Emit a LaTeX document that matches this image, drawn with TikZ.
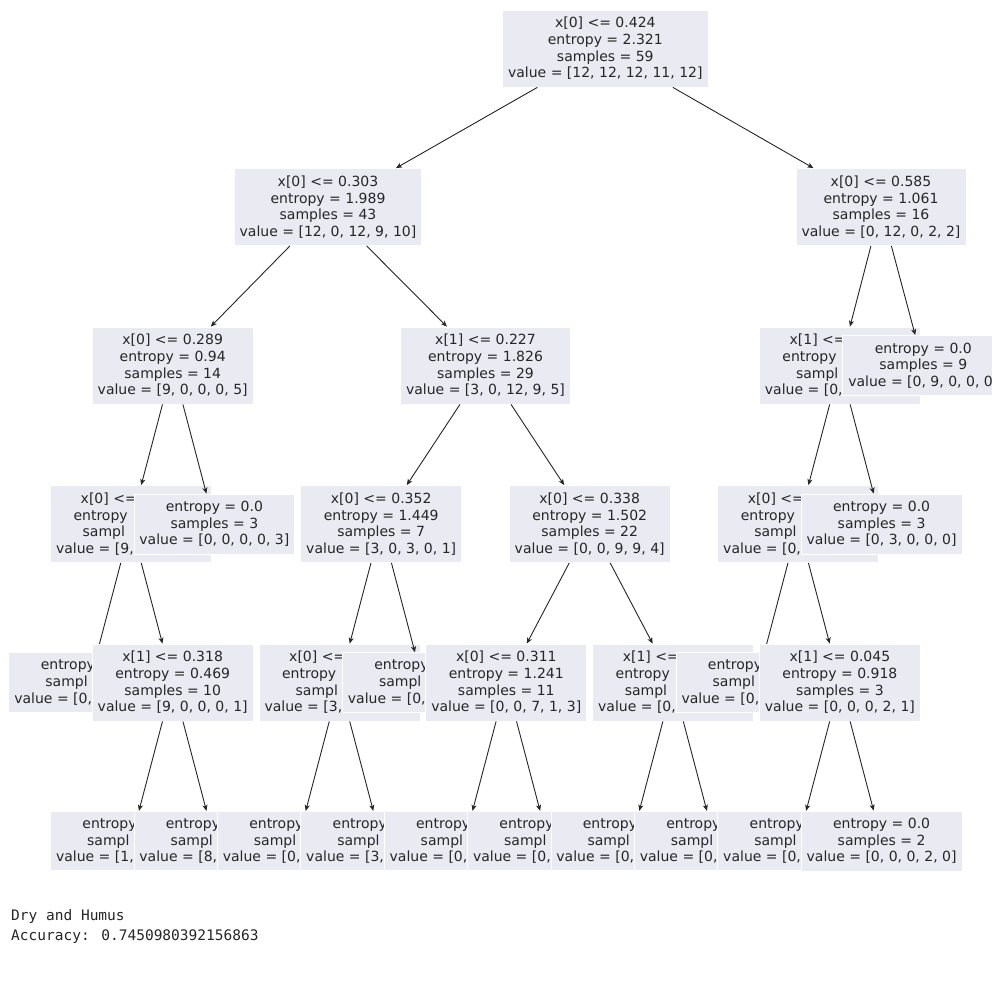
\documentclass[tikz,border=0pt]{standalone}
\usepackage{fontspec}
\setmainfont{DejaVu Sans}
\newfontfamily\codefont{DejaVu Sans Mono}
\usetikzlibrary{arrows.meta}

\definecolor{boxfill}{HTML}{EAEAF2}
\definecolor{inkgray}{HTML}{262626}

% text of a box that the next box partly hides
\newcommand{\splitcut}[3]{x[#1] <=\hphantom{ 0.000}\\entropy\hphantom{ = 0.000}\\sampl\hphantom{#2}\\value = [#3,\hphantom{ 0, 0, 0, 0]}}
\newcommand{\leafcut}[1]{entropy\hphantom{ = 0.0}\\sampl\hphantom{es = 0}\\value = [#1,\hphantom{ 0, 0, 0, 0]}}

\tikzset{
  treebox/.style={fill=boxfill, draw=white, line width=0.8pt, text=inkgray, align=center,
    inner xsep=5.5pt, inner ysep=7.2pt, font=\fontsize{14}{16.7}\selectfont},
  treelink/.style={draw=inkgray, line width=0.9pt, -{Stealth[length=6pt,width=5pt,inset=1.5pt]}},
  printout/.style={anchor=west, inner sep=0pt, text=black!85, font=\codefont\fontsize{14.5}{17}\selectfont}
}

\begin{document}
\begin{tikzpicture}[x=1pt,y=-1pt]
\useasboundingbox (0,0) rectangle (992,987);
\clip (0,0) rectangle (992,987);
\fill[white] (0,0) rectangle (992,987);

% depth 0-1
\node[treebox] (root) at (605.3,48.5) {x[0] <= 0.424\\entropy = 2.321\\samples = 59\\value = [12, 12, 12, 11, 12]};
\node[treebox] (l) at (328,207) {x[0] <= 0.303\\entropy = 1.989\\samples = 43\\value = [12, 0, 12, 9, 10]};
\draw[treelink] (root) -- (l);
\node[treebox] (r) at (881,207) {x[0] <= 0.585\\entropy = 1.061\\samples = 16\\value = [0, 12, 0, 2, 2]};
\draw[treelink] (root) -- (r);

% depth 2
\node[treebox] (ll) at (172.7,365.5) {x[0] <= 0.289\\entropy = 0.94\\samples = 14\\value = [9, 0, 0, 0, 5]};
\draw[treelink] (l) -- (ll);
\node[treebox] (lr) at (485.5,365.5) {x[1] <= 0.227\\entropy = 1.826\\samples = 29\\value = [3, 0, 12, 9, 5]};
\draw[treelink] (l) -- (lr);
\node[treebox] (rl) at (839.9,365.5) {\splitcut{1}{es = 7}{0}};
\draw[treelink] (r) -- (rl);
\node[treebox] (rr) at (923.3,365.5) {entropy = 0.0\\samples = 9\\value = [0, 9, 0, 0, 0]};
\draw[treelink] (r) -- (rr);

% depth 3
\node[treebox] (lll) at (131,524) {\splitcut{0}{es = 11}{9}};
\draw[treelink] (ll) -- (lll);
\node[treebox] (llr) at (214.4,524) {entropy = 0.0\\samples = 3\\value = [0, 0, 0, 0, 3]};
\draw[treelink] (ll) -- (llr);
\node[treebox] (lrl) at (381.2,524) {x[0] <= 0.352\\entropy = 1.449\\samples = 7\\value = [3, 0, 3, 0, 1]};
\draw[treelink] (lr) -- (lrl);
\node[treebox] (lrr) at (589.7,524) {x[0] <= 0.338\\entropy = 1.502\\samples = 22\\value = [0, 0, 9, 9, 4]};
\draw[treelink] (lr) -- (lrr);
\node[treebox] (rll) at (798.2,524) {\splitcut{0}{es = 4}{0}};
\draw[treelink] (rl) -- (rll);
\node[treebox] (rlr) at (881.6,524) {entropy = 0.0\\samples = 3\\value = [0, 3, 0, 0, 0]};
\draw[treelink] (rl) -- (rlr);

% depth 4
\node[treebox] (llll) at (89.3,682.5) {\leafcut{0}};
\draw[treelink] (lll) -- (llll);
\node[treebox] (lllr) at (172.7,682.5) {x[1] <= 0.318\\entropy = 0.469\\samples = 10\\value = [9, 0, 0, 0, 1]};
\draw[treelink] (lll) -- (lllr);
\node[treebox] (lrll) at (339.5,682.5) {\splitcut{0}{es = 6}{3}};
\draw[treelink] (lrl) -- (lrll);
\node[treebox] (lrlr) at (422.9,682.5) {\leafcut{0}};
\draw[treelink] (lrl) -- (lrlr);
\node[treebox] (lrrl) at (506.3,682.5) {x[0] <= 0.311\\entropy = 1.241\\samples = 11\\value = [0, 0, 7, 1, 3]};
\draw[treelink] (lrr) -- (lrrl);
\node[treebox] (lrrr) at (673.1,682.5) {\splitcut{1}{es = 11}{0}};
\draw[treelink] (lrr) -- (lrrr);
\node[treebox] (rlll) at (756.5,682.5) {\leafcut{0}};
\draw[treelink] (rll) -- (rlll);
\node[treebox] (rllr) at (839.9,682.5) {x[1] <= 0.045\\entropy = 0.918\\samples = 3\\value = [0, 0, 0, 2, 1]};
\draw[treelink] (rll) -- (rllr);

% depth 5, all leaves
\node[treebox] (lllrl) at (131,841) {\leafcut{1}};
\draw[treelink] (lllr) -- (lllrl);
\node[treebox] (lllrr) at (214.4,841) {\leafcut{8}};
\draw[treelink] (lllr) -- (lllrr);
\node[treebox] (lrlll) at (297.8,841) {\leafcut{0}};
\draw[treelink] (lrll) -- (lrlll);
\node[treebox] (lrllr) at (381.2,841) {\leafcut{3}};
\draw[treelink] (lrll) -- (lrllr);
\node[treebox] (lrrll) at (464.6,841) {\leafcut{0}};
\draw[treelink] (lrrl) -- (lrrll);
\node[treebox] (lrrlr) at (548,841) {\leafcut{0}};
\draw[treelink] (lrrl) -- (lrrlr);
\node[treebox] (lrrrl) at (631.4,841) {\leafcut{0}};
\draw[treelink] (lrrr) -- (lrrrl);
\node[treebox] (lrrrr) at (714.8,841) {\leafcut{0}};
\draw[treelink] (lrrr) -- (lrrrr);
\node[treebox] (rllrl) at (798.2,841) {\leafcut{0}};
\draw[treelink] (rllr) -- (rllrl);
\node[treebox] (rllrr) at (881.6,841) {entropy = 0.0\\samples = 2\\value = [0, 0, 0, 2, 0]};
\draw[treelink] (rllr) -- (rllrr);

% printed output under the plot
\node[printout] (caption) at (11,916) {Dry and Humus};
\node[printout] (score) at (11,937) {Accuracy: 0.7450980392156863};
\end{tikzpicture}
\end{document}
